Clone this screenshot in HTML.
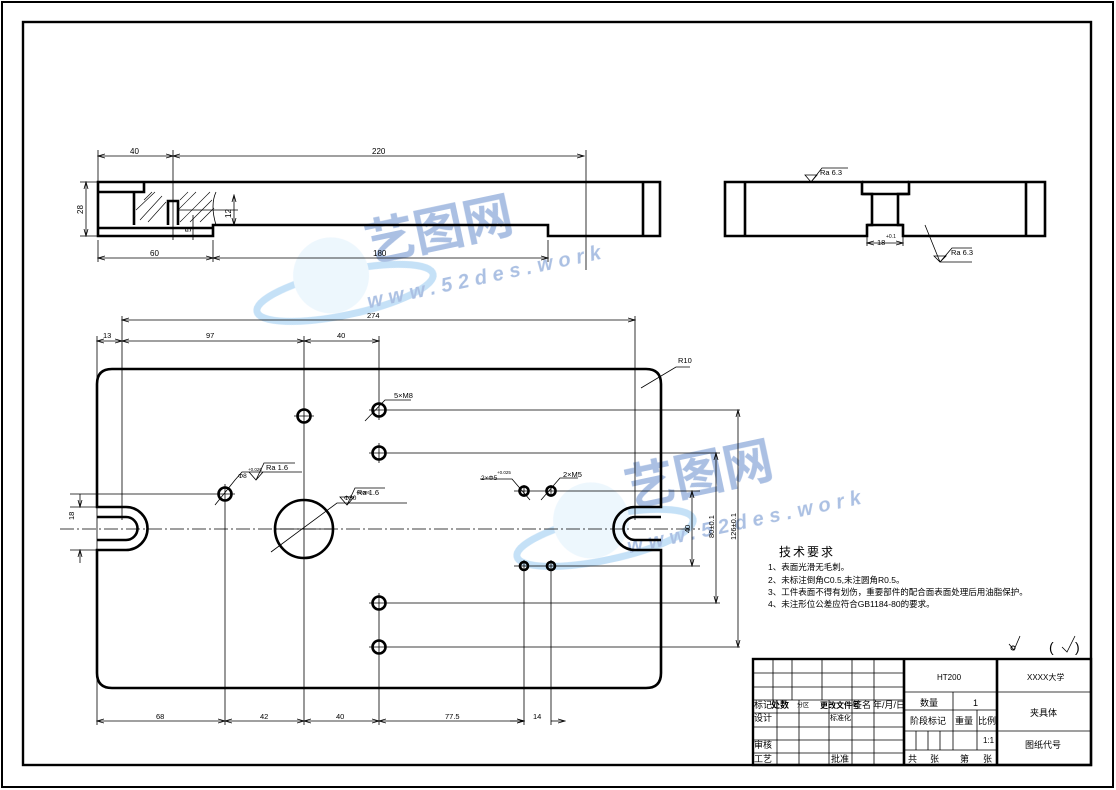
<!DOCTYPE html>
<html><head><meta charset="utf-8"><style>
html,body{margin:0;padding:0;background:#fff;}
svg{display:block;}
text{font-family:"Liberation Sans","Noto Sans CJK SC",sans-serif;fill:#000;}
.k{stroke:#000;fill:none;stroke-width:2.6;}
.t{stroke:#000;fill:none;stroke-width:0.8;}
.c{stroke:#000;fill:none;stroke-width:0.8;stroke-dasharray:14 3 2 3;}
.s{font-family:"Liberation Serif","Noto Serif CJK SC","Noto Sans CJK SC",serif;}
</style></head><body>
<svg width="1116" height="790" viewBox="0 0 1116 790" xmlns="http://www.w3.org/2000/svg">
<defs>
<marker id="a" markerWidth="8" markerHeight="6" refX="7" refY="3" orient="auto-start-reverse" markerUnits="userSpaceOnUse"><path d="M0,1 L7,3 L0,5" fill="none" stroke="#000" stroke-width="0.8"/></marker>
</defs>
<rect x="2" y="2" width="1111" height="785" fill="none" stroke="#000" stroke-width="2"/>
<rect x="23" y="22" width="1068" height="743" fill="none" stroke="#000" stroke-width="2.4"/>

<!-- watermarks -->
<g opacity="0.4">
<g transform="translate(380,265) rotate(-12)">
<ellipse cx="-40" cy="20" rx="90" ry="22" fill="none" stroke="#6fb4ea" stroke-width="7"/>
<circle cx="-50" cy="0" r="38" fill="#d3eafb"/>
<text x="-10" y="-5" font-size="50" font-weight="bold" style="fill:#2f63b8">艺图网</text>
<text x="-20" y="40" font-size="20" font-weight="bold" font-style="italic" letter-spacing="6" style="fill:#2f63b8">www.52des.work</text>
</g>
<g transform="translate(640,510) rotate(-12)">
<ellipse cx="-40" cy="20" rx="90" ry="22" fill="none" stroke="#6fb4ea" stroke-width="7"/>
<circle cx="-50" cy="0" r="38" fill="#d3eafb"/>
<text x="-10" y="-5" font-size="50" font-weight="bold" style="fill:#2f63b8">艺图网</text>
<text x="-20" y="40" font-size="20" font-weight="bold" font-style="italic" letter-spacing="6" style="fill:#2f63b8">www.52des.work</text>
</g>
</g>

<!-- TOP VIEW -->
<path class="k" d="M98,182 H660 V236 H548 V225 H213 V236 H98 Z"/>
<path class="k" d="M98,192 H144 V182 M134,192 V225 M98,228 H213 M643,182 V236"/>
<path class="k" d="M168,225 V201 H178 V225"/>
<g stroke="#000" stroke-width="0.6">
<line x1="140" y1="220" x2="162" y2="196"/><line x1="148" y1="222" x2="166" y2="202"/><line x1="136" y1="210" x2="155" y2="192"/>
<line x1="180" y1="222" x2="210" y2="192"/><line x1="190" y1="222" x2="212" y2="200"/><line x1="178" y1="210" x2="196" y2="192"/><line x1="200" y1="222" x2="214" y2="208"/><line x1="144" y1="200" x2="152" y2="192"/><line x1="180" y1="200" x2="188" y2="192"/>
</g>
<path class="t" d="M216,192 Q210,205 216,225 M173,150 V240 M178,210 H238 M98,150 V182 M586,150 V270 M98,240 V262 M213,240 V262 M548,240 V262 M80,182 H98 M80,236 H98"/>
<line class="t" x1="98" y1="156" x2="173" y2="156" marker-start="url(#a)" marker-end="url(#a)"/>
<line class="t" x1="173" y1="156" x2="584" y2="156" marker-start="url(#a)" marker-end="url(#a)"/>
<line class="t" x1="98" y1="258" x2="213" y2="258" marker-start="url(#a)" marker-end="url(#a)"/>
<line class="t" x1="213" y1="258" x2="548" y2="258" marker-start="url(#a)" marker-end="url(#a)"/>
<line class="t" x1="86" y1="182" x2="86" y2="236" marker-start="url(#a)" marker-end="url(#a)"/>
<line class="t" x1="234" y1="195" x2="234" y2="225" marker-start="url(#a)" marker-end="url(#a)"/>
<line class="t" x1="193" y1="215" x2="193" y2="240"/>
<g font-size="8">
<text x="130" y="154">40</text><text x="372" y="154">220</text><text x="150" y="256">60</text><text x="373" y="256">180</text>
<text transform="translate(83,214) rotate(-90)">28</text><text transform="translate(231,218) rotate(-90)">12</text><text transform="translate(191,232) rotate(-90)">5</text>
</g>

<!-- RIGHT VIEW -->
<path class="k" d="M725,182 H862 V194 H872 V225 H867 V236 H725 Z"/>
<path class="k" d="M1045,182 H909 V194 H898 V225 H903 V236 H1045 Z"/>
<path class="k" d="M862,182 H909 M862,194 H909 M745,182 V236 M1026,182 V236 M867,225 H903"/>
<path class="t" d="M867,236 V246 M903,236 V246 M805,175 L811,182 L817,175 Z M811,182 L822,168 H848 M925,225 L940,262 M934,256 L940,262 L946,256 Z M940,262 H972 M940,262 L952,248 H972"/>
<line class="t" x1="867" y1="243" x2="903" y2="243" marker-start="url(#a)" marker-end="url(#a)"/>
<g font-size="7.5"><text x="820" y="175">Ra 6.3</text><text x="951" y="255">Ra 6.3</text><text x="877" y="245">18</text><text x="886" y="238" font-size="5">+0.1</text></g>

<!-- PLATE -->
<path class="k" d="M112,369 H646 Q661,369 661,384 V507 H635 A21.5,21.5 0 0 0 635,550 H661 V673 Q661,688 646,688 H112 Q97,688 97,673 V550 H126 A21.5,21.5 0 0 0 126,507 H97 V384 Q97,369 112,369 Z"/>
<path class="k" d="M97,517 H126 A11.5,11.5 0 0 1 126,540 H97 M661,517 H635 A11.5,11.5 0 0 0 635,540 H661"/>
<line class="c" x1="60" y1="529" x2="700" y2="529"/>
<g class="k" stroke-width="3.2">
<circle cx="304" cy="416" r="6.5"/><circle cx="379" cy="410" r="6.5"/><circle cx="379" cy="453" r="6.5"/><circle cx="379" cy="603" r="6.5"/><circle cx="379" cy="647" r="6.5"/><circle cx="225" cy="494" r="6.5"/>
<circle cx="304" cy="529" r="29"/><circle cx="524" cy="491" r="4.5"/><circle cx="551" cy="491" r="4.5"/><circle cx="524" cy="566" r="4"/><circle cx="551" cy="566" r="4"/>
</g>
<path class="t" d="M304,336 V725 M379,336 V420 M379,443 V463 M379,593 V725 M225,484 V725 M524,560 V725 M551,560 V725 M97,336 V725 M122,316 V520 M635,316 V520 M524,485 V497 M551,485 V497
M294,416 H314 M369,410 H740 M369,453 H720 M369,603 H720 M369,647 H740 M70,494 H235 M514,491 H700 M514,566 H700 M275,529 H333
M70,507 H97 M70,550 H97"/>
<line class="t" x1="122" y1="320" x2="635" y2="320" marker-start="url(#a)" marker-end="url(#a)"/>
<line class="t" x1="97" y1="341" x2="122" y2="341" marker-start="url(#a)" marker-end="url(#a)"/>
<line class="t" x1="122" y1="341" x2="304" y2="341" marker-start="url(#a)" marker-end="url(#a)"/>
<line class="t" x1="304" y1="341" x2="379" y2="341" marker-start="url(#a)" marker-end="url(#a)"/>
<line class="t" x1="692" y1="491" x2="692" y2="566" marker-start="url(#a)" marker-end="url(#a)"/>
<line class="t" x1="716" y1="453" x2="716" y2="603" marker-start="url(#a)" marker-end="url(#a)"/>
<line class="t" x1="738" y1="410" x2="738" y2="647" marker-start="url(#a)" marker-end="url(#a)"/>
<line class="t" x1="80" y1="494" x2="80" y2="507" marker-end="url(#a)"/>
<line class="t" x1="80" y1="563" x2="80" y2="550" marker-end="url(#a)"/>
<line class="t" x1="97" y1="721" x2="225" y2="721" marker-start="url(#a)" marker-end="url(#a)"/>
<line class="t" x1="225" y1="721" x2="304" y2="721" marker-start="url(#a)" marker-end="url(#a)"/>
<line class="t" x1="304" y1="721" x2="379" y2="721" marker-start="url(#a)" marker-end="url(#a)"/>
<line class="t" x1="379" y1="721" x2="524" y2="721" marker-start="url(#a)" marker-end="url(#a)"/>
<line class="t" x1="551" y1="721" x2="565" y2="721" marker-end="url(#a)"/>
<line class="t" x1="510" y1="721" x2="524" y2="721" marker-end="url(#a)"/>
<!-- leaders -->
<path class="t" d="M641,388 L676,367 H690 M365,421 L385,400 H411 M215,505 L235,480 L242,472 H302 M271,552 L337,503 H407 M480,479 H512 L530,500 M541,500 L560,478 H578
M249,472 L256,480 L263,472 Z M256,480 L264,463 H295 M340,497 L347,505 L354,497 Z M347,505 L355,488 H385"/>
<g font-size="7.5">
<text x="367" y="318">274</text><text x="103" y="338">13</text><text x="206" y="338">97</text><text x="337" y="338">40</text>
<text x="678" y="363">R10</text><text x="394" y="398">5×M8</text>
<text x="238" y="478" font-size="6.5">Φ8</text><text x="248" y="471" font-size="4.5">+0.026</text><text x="266" y="470">Ra 1.6</text>
<text x="344" y="500" font-size="6.5">Φ30</text><text x="356" y="494" font-size="4.5">+0.026</text><text x="357" y="495">Ra 1.6</text>
<text x="481" y="480" font-size="6.5">2×Φ5</text><text x="497" y="474" font-size="4.5">+0.025</text><text x="563" y="477">2×M5</text>
<text transform="translate(74,520) rotate(-90)">18</text>
<text transform="translate(690,533) rotate(-90)">40</text>
<text transform="translate(714,538) rotate(-90)">80±0.1</text>
<text transform="translate(736,540) rotate(-90)">126±0.1</text>
<text x="156" y="719">68</text><text x="260" y="719">42</text><text x="336" y="719">40</text><text x="445" y="719">77.5</text><text x="533" y="719">14</text>
</g>

<!-- tech requirements -->
<g class="s">
<text x="779" y="556" font-size="12" letter-spacing="2">技术要求</text>
<text x="768" y="570" font-size="8.5">1、表面光滑无毛刺。</text>
<text x="768" y="583" font-size="8.5">2、未标注倒角C0.5,未注圆角R0.5。</text>
<text x="768" y="595" font-size="8.5">3、工件表面不得有划伤，重要部件的配合面表面处理后用油脂保护。</text>
<text x="768" y="607" font-size="8.5">4、未注形位公差应符合GB1184-80的要求。</text>
</g>
<path class="t" stroke-width="1.2" d="M1009,644 L1014,650 L1020,636 M1062,647 L1067,652 L1075,636"/>
<circle cx="1013" cy="648" r="2" fill="none" stroke="#000"/>
<text x="1049" y="652" font-size="14">(</text><text x="1075" y="652" font-size="14">)</text>

<!-- title block -->
<rect x="753" y="659" width="338" height="106" fill="none" stroke="#000" stroke-width="2.4"/>
<path class="t" stroke-width="1" d="M753,673 H904 M753,687 H904 M753,700 H904 M753,713 H904 M753,727 H904 M753,740 H904 M753,753 H904
M773,659 V700 M792,659 V700 M822,659 V700 M852,659 V700 M874,659 V700
M777,700 V765 M799,700 V765 M829,700 V765 M852,700 V765 M874,700 V765"/>
<path class="k" stroke-width="1.8" d="M904,659 V765 M997,659 V765"/>
<path class="t" stroke-width="1" d="M904,692 H1091 M904,710 H997 M904,731 H1091 M904,750 H997 M953,692 V750 M977,710 V750 M916,731 V750 M928,731 V750 M940,731 V750"/>
<g class="s" font-size="9">
<text x="937" y="680" font-size="8">HT200</text><text x="1027" y="680" font-size="8">XXXX大学</text>
<text x="920" y="706">数量</text><text x="973" y="706">1</text>
<text x="1030" y="716">夹具体</text>
<text x="910" y="724">阶段标记</text><text x="955" y="724">重量</text><text x="978" y="724">比例</text>
<text x="983" y="743" font-size="8">1:1</text><text x="1025" y="748">图纸代号</text>
<text x="908" y="762">共</text><text x="930" y="762">张</text><text x="960" y="762">第</text><text x="983" y="762">张</text>
<text x="754" y="708">标记</text><text x="771" y="708" font-weight="bold">处数</text><text x="797" y="707" font-size="6">分区</text><text x="820" y="708" font-weight="bold" font-size="8">更改文件号</text><text x="853" y="708">签名</text><text x="873" y="708">年/月/日</text>
<text x="754" y="721">设计</text><text x="830" y="720" font-size="7">标准化</text>
<text x="754" y="748">审核</text><text x="754" y="762">工艺</text><text x="831" y="762">批准</text>
</g>
</svg>
</body></html>
